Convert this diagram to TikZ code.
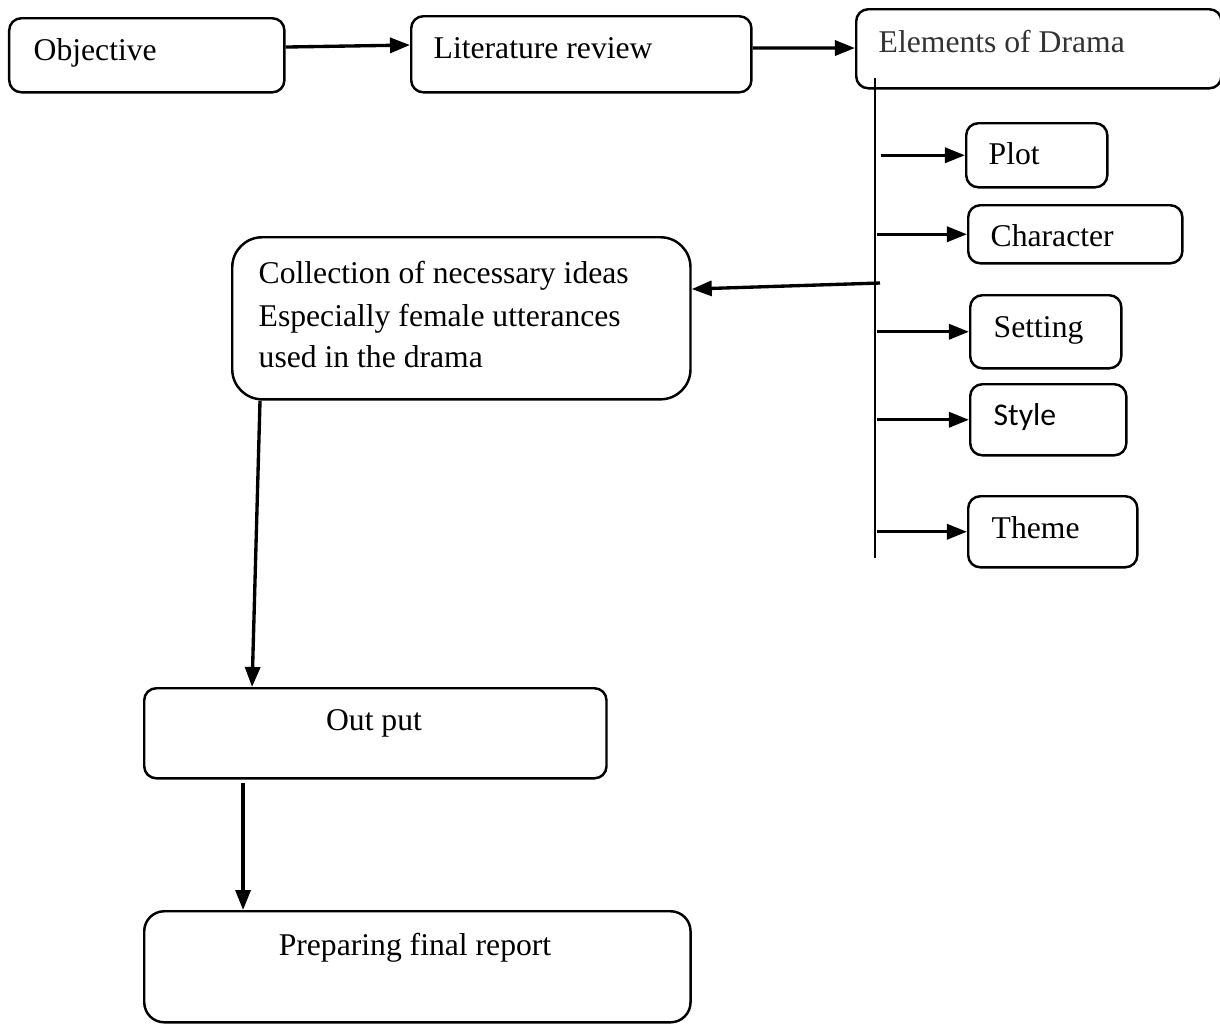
\documentclass[tikz,border=0pt]{standalone}
\usepackage{fontspec}
\setmainfont{Liberation Serif}
\newfontfamily\sansstyle{Carlito}
\usetikzlibrary{arrows.meta, positioning}

\begin{document}
\begin{tikzpicture}[x=0.01cm, y=-0.01cm,
    box/.style={draw, rounded corners=0.12cm, line width=0.7pt, inner sep=0pt, anchor=north west},
    lbl/.style={anchor=base west, inner sep=0pt, font=\fontsize{9}{12}\selectfont},
    link/.style={-{Triangle[length=0.2cm, width=0.15cm]}, line width=0.95pt}]

\useasboundingbox (0,0) rectangle (1220,1023);

% top row
\node[box, minimum width=2.75cm, minimum height=0.74cm] (objective) at (8,17) {};
\node[box, minimum width=3.40cm, minimum height=0.76cm] (litreview) at (410,15) {};
\node[box, minimum width=3.65cm, minimum height=0.79cm] (elements) at (855,8) {};
\node[lbl] at (33,60) {Objective};
\node[lbl] at (433,58) {Literature review};
\node[lbl, text=black!80] at (878,52) {Elements of Drama};

\draw[link] ([yshift=-0.30cm]objective.north east) -- ([yshift=-0.30cm]litreview.north west);
\draw[link] ([yshift=-0.33cm]litreview.north east) -- ([yshift=-0.40cm]elements.north west);

% elements of drama
\node[box, minimum width=1.41cm, minimum height=0.64cm] (plot) at (965,122) {};
\node[box, minimum width=2.14cm, minimum height=0.58cm] (character) at (967,204) {};
\node[box, minimum width=1.51cm, minimum height=0.73cm] (setting) at (969,294) {};
\node[box, minimum width=1.56cm, minimum height=0.71cm] (style) at (969,383) {};
\node[box, minimum width=1.69cm, minimum height=0.71cm] (theme) at (967,495) {};
\node[lbl] at (988,164) {Plot};
\node[lbl] at (990,246) {Character};
\node[lbl] at (993,337) {Setting};
\node[lbl, font=\fontsize{9}{12}\selectfont\sansstyle] at (993,425) {Style};
\node[lbl] at (991,538) {Theme};

\coordinate (spinetop) at (875,78);
\coordinate (spinebot) at (875,558);
\coordinate (branch) at (880,283);
\draw[line width=0.6pt] (spinetop) -- (spinebot);
\draw[link] ([xshift=0.06cm]spinetop |- plot.west) -- (plot.west);
\foreach \el in {character, setting, style, theme}{
    \draw[link] ([xshift=0.02cm]spinetop |- \el.west) -- (\el.west);
};

% collection and output
\node[box, rounded corners=0.3cm, minimum width=4.58cm, minimum height=1.62cm] (collection) at (231,236) {};
\node[lbl] at (258,283) {Collection of necessary ideas};
\node[lbl] at (258,326) {Especially female utterances};
\node[lbl] at (258,367) {used in the drama};
\draw[link] (branch) -- ([yshift=-0.53cm]collection.north east);

\node[box, minimum width=4.62cm, minimum height=0.90cm] (output) at (143,687) {};
\node[lbl, anchor=base] at (374,730) {Out put};
\node[box, rounded corners=0.2cm, minimum width=5.46cm, minimum height=1.11cm] (report) at (143,910) {};
\node[lbl, anchor=base] at (415,955) {Preparing final report};

\draw[link] ([xshift=0.29cm]collection.south west) -- ([xshift=1.09cm]output.north west);
\draw[link] ([xshift=1.0cm, yshift=-0.03cm]output.south west) -- ([xshift=1.0cm]report.north west);

\end{tikzpicture}
\end{document}
